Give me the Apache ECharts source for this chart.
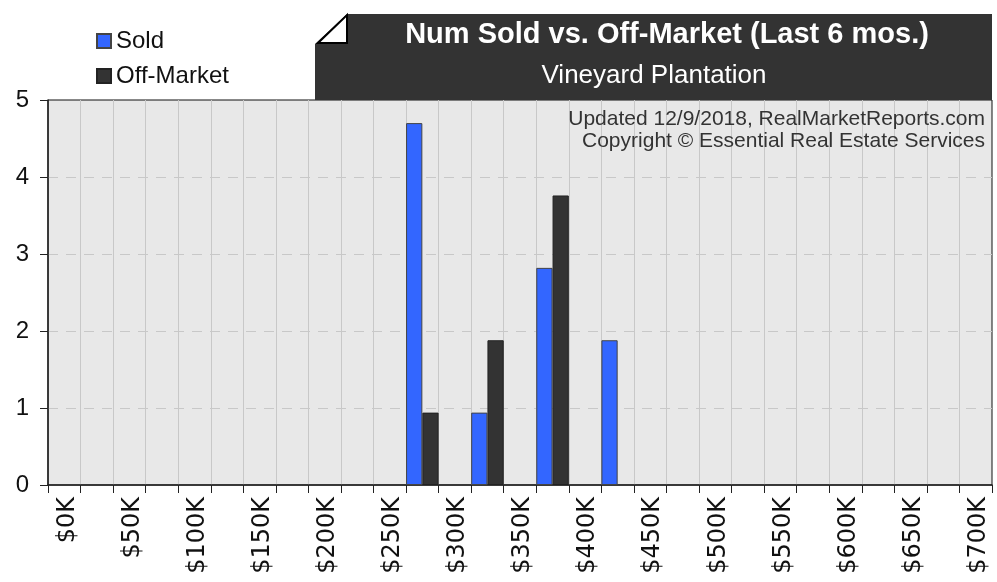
<!DOCTYPE html>
<html>
<head>
<meta charset="utf-8">
<script src="https://cdn.jsdelivr.net/npm/echarts@6/dist/echarts.min.js"></script>
<style>
  html, body { margin: 0; padding: 0; background: #fff; }
  #chart { width: 997px; height: 582px; }
</style>
</head>
<body>
<div id="chart"></div>
<script>
// price ticks, one label every $50K
const priceLabels = ['$0K', '$50K', '$100K', '$150K', '$200K', '$250K', '$300K', '$350K',
  '$400K', '$450K', '$500K', '$550K', '$600K', '$650K', '$700K'];
// counts per $50K bin ($0K-$50K ... $650K-$700K)
const soldCounts = [0, 0, 0, 0, 0, 4.7, 0.94, 2.82, 1.88, 0, 0, 0, 0, 0];
const offMarketCounts = [0, 0, 0, 0, 0, 0.94, 1.88, 3.76, 0, 0, 0, 0, 0, 0];
const yTicks = [0, 1, 2, 3, 4, 5];

// axis cells: even cells carry a price label, odd cells hold the bin bars
const categories = [];
const soldData = [];
const offData = [];
priceLabels.forEach((p, i) => {
  categories.push(p);
  soldData.push('-');
  offData.push('-');
  if (i < soldCounts.length) {
    categories.push(p + '-' + priceLabels[i + 1]);
    soldData.push(soldCounts[i] || '-');
    offData.push(offMarketCounts[i] || '-');
  }
});

const chart = echarts.init(document.getElementById('chart'), null, { renderer: 'canvas' });

const option = {
  animation: false,
  textStyle: { fontFamily: 'Liberation Sans, Arial, sans-serif' },
  legend: {
    orient: 'vertical',
    left: 96,
    top: 29,
    padding: 0,
    itemWidth: 14,
    itemHeight: 14,
    itemGap: 11,
    icon: 'rect',
    textStyle: { fontSize: 24, color: '#111', fontFamily: 'Liberation Sans' },
    data: ['Sold', 'Off-Market']
  },
  grid: {
    left: 48,
    right: 5,
    top: 100,
    bottom: 97,
    show: true,
    backgroundColor: '#e8e8e8',
    borderColor: '#111',
    borderWidth: 1
  },
  xAxis: {
    type: 'category',
    data: categories,
    boundaryGap: true,
    axisLine: { lineStyle: { color: '#222', width: 1.5 } },
    axisTick: { show: true, interval: 0, length: 8, lineStyle: { color: '#222' } },
    splitLine: {
      show: true, interval: 0, showMinLine: false, showMaxLine: false,
      lineStyle: { color: '#c8c8c8', width: 1 }
    },
    axisLabel: {
      interval: 0,
      rotate: 90,
      margin: 12,
      verticalAlign: 'top',
      lineHeight: 6,
      fontSize: 24,
      color: '#111',
      fontFamily: 'DejaVu Sans',
      formatter: (v, i) => (i % 2 === 0 ? v : '')
    }
  },
  yAxis: {
    type: 'value',
    min: yTicks[0],
    max: yTicks[yTicks.length - 1],
    interval: 1,
    axisLine: { show: true, lineStyle: { color: '#222', width: 1.5 } },
    axisTick: { show: true, length: 8, lineStyle: { color: '#222' } },
    axisLabel: { fontSize: 24, color: '#111', margin: 19, fontFamily: 'Liberation Sans' },
    splitLine: {
      show: true, showMinLine: false, showMaxLine: false,
      lineStyle: { color: '#c8c8c8', type: [10, 8] }
    }
  },
  series: [
    {
      name: 'Sold',
      type: 'bar',
      data: soldData,
      barGap: '0%',
      barCategoryGap: '0%',
      itemStyle: { color: '#3366ff', borderColor: '#444', borderWidth: 1 }
    },
    {
      name: 'Off-Market',
      type: 'bar',
      data: offData,
      barGap: '0%',
      barCategoryGap: '0%',
      itemStyle: { color: '#333333', borderColor: '#222', borderWidth: 1 }
    }
  ],
  graphic: [
    {
      type: 'polygon',
      z: 10,
      shape: { points: [[315, 44], [347, 14], [992, 14], [992, 100], [315, 100]] },
      style: { fill: '#333333' }
    },
    {
      type: 'polygon',
      z: 11,
      shape: { points: [[318, 43], [347, 15], [347, 43]] },
      style: { fill: '#ffffff', stroke: '#000', lineWidth: 2 }
    },
    {
      type: 'text',
      z: 12,
      style: {
        text: 'Num Sold vs. Off-Market (Last 6 mos.)',
        x: 667, y: 35,
        textAlign: 'center', textVerticalAlign: 'middle',
        fill: '#ffffff',
        font: 'bold 29px "Liberation Sans", Arial, sans-serif'
      }
    },
    {
      type: 'text',
      z: 12,
      style: {
        text: 'Vineyard Plantation',
        x: 654, y: 76,
        textAlign: 'center', textVerticalAlign: 'middle',
        fill: '#ffffff',
        font: '26px "Liberation Sans", Arial, sans-serif'
      }
    },
    {
      type: 'text',
      z: 12,
      style: {
        text: 'Updated 12/9/2018, RealMarketReports.com',
        x: 985, y: 119,
        textAlign: 'right', textVerticalAlign: 'middle',
        fill: '#333',
        font: '21px "Liberation Sans", Arial, sans-serif'
      }
    },
    {
      type: 'text',
      z: 12,
      style: {
        text: 'Copyright © Essential Real Estate Services',
        x: 985, y: 141,
        textAlign: 'right', textVerticalAlign: 'middle',
        fill: '#333',
        font: '21px "Liberation Sans", Arial, sans-serif'
      }
    }
  ]
};

chart.setOption(option);
</script>
</body>
</html>
